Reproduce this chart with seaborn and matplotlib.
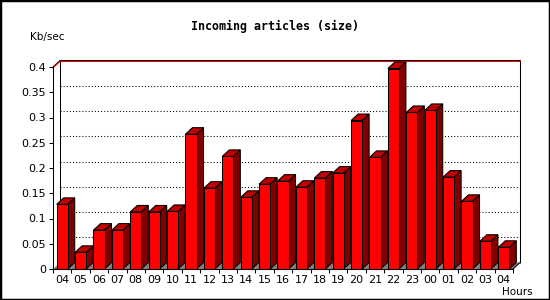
import numpy as np
import pandas as pd
import seaborn as sns
import matplotlib
matplotlib.use("Agg")
import matplotlib.pyplot as plt
from matplotlib.patches import Polygon, Rectangle
from matplotlib.lines import Line2D

hours = ["04", "05", "06", "07", "08", "09", "10", "11", "12", "13", "14", "15",
         "16", "17", "18", "19", "20", "21", "22", "23", "00", "01", "02", "03", "04"]
values = [0.128, 0.033, 0.077, 0.077, 0.113, 0.113, 0.114, 0.267, 0.160, 0.223,
          0.142, 0.168, 0.174, 0.162, 0.180, 0.190, 0.294, 0.221, 0.397, 0.310,
          0.314, 0.182, 0.134, 0.055, 0.043]
yticks = [0, 0.05, 0.1, 0.15, 0.2, 0.25, 0.3, 0.35, 0.4]
ytick_labels = ["0", "0.05", "0.1", "0.15", "0.2", "0.25", "0.3", "0.35", "0.4"]
title = "Incoming articles (size)"
ylabel = "Kb/sec"
xlabel = "Hours"

FRONT = "#ff0000"
TOP = "#c00000"
SIDE = "#800000"
FLOOR = "#808080"
LW = 0.75

sns.set_theme(style="white")
plt.rcParams["font.family"] = ["DejaVu Sans"]

W, H, DPI = 550, 300, 100
fig = plt.figure(figsize=(W / DPI, H / DPI), dpi=DPI)
fig.patch.set_facecolor("white")
ax_left, ax_right, ax_top, ax_bottom = 53, 513, 67, 269
ax = fig.add_axes([ax_left / W, 1 - ax_bottom / H, (ax_right - ax_left) / W, (ax_bottom - ax_top) / H])
ax.set_facecolor("none")

n = len(values)
df = pd.DataFrame({"slot": np.arange(n), "value": values})
sns.barplot(data=df, x="slot", y="value", ax=ax, color=FRONT, saturation=1,
            width=0.6, edgecolor="black", linewidth=LW, zorder=4)

ax.set_xlim(-0.5, n - 0.5)
ax.set_ylim(0, 0.4)

# depth in data units (7 px right, 6.5 px up)
px_x = (ax_right - ax_left) / n
px_y = (ax_bottom - ax_top) / 0.4
ddx = 7 / px_x
ddy = 6.5 / px_y

x0w, x1w = -0.5, n - 0.5
# back wall
ax.add_patch(Polygon([(x0w + ddx, ddy), (x0w + ddx, 0.4 + ddy), (x1w + ddx, 0.4 + ddy), (x1w + ddx, ddy)],
                     closed=False, facecolor="white", edgecolor="black", linewidth=LW,
                     zorder=0.5, clip_on=False))
# floor
ax.add_patch(Polygon([(x0w, 0), (x1w, 0), (x1w + ddx, ddy), (x0w + ddx, ddy)],
                     closed=True, facecolor=FLOOR, edgecolor="none", zorder=0.8, clip_on=False))
ax.add_line(Line2D([x1w, x1w + ddx], [0, ddy], color="black", linewidth=LW, zorder=0.9, clip_on=False))
# grid lines on back wall
for v in yticks[1:-1]:
    ax.add_line(Line2D([x0w + ddx, x1w + ddx], [v + ddy, v + ddy], color="black",
                       linewidth=LW, linestyle=(0, (1.0, 2.0)), zorder=0.7, clip_on=False))
# top red line and left diagonal
red_off = 1.0 / px_y
ax.add_line(Line2D([x0w + ddx, x1w + ddx], [0.4 + ddy - red_off, 0.4 + ddy - red_off],
                   color="red", linewidth=LW, zorder=0.9, clip_on=False))
ax.add_line(Line2D([x0w, x0w + ddx], [0.4, 0.4 + ddy], color="black", linewidth=LW, zorder=0.9, clip_on=False))
ax.add_line(Line2D([x0w, x0w + ddx], [0.4 - red_off, 0.4 + ddy - red_off], color="red",
                   linewidth=LW, zorder=0.9, clip_on=False))

# 3D top and side faces derived from bar patches
for p in ax.patches:
    if not isinstance(p, Rectangle):
        continue
    bx0 = p.get_x()
    bx1 = bx0 + p.get_width()
    h = p.get_height()
    top = Polygon([(bx0, h), (bx1, h), (bx1 + ddx, h + ddy), (bx0 + ddx, h + ddy)], closed=True,
                  facecolor=TOP, edgecolor="black", linewidth=LW, zorder=3, clip_on=False)
    side = Polygon([(bx1, 0), (bx1, h), (bx1 + ddx, h + ddy), (bx1 + ddx, ddy)], closed=True,
                   facecolor=SIDE, edgecolor="black", linewidth=LW, zorder=3, clip_on=False)
    ax.add_patch(side)
    ax.add_patch(top)
    p.set_clip_on(False)

for s in ["top", "right"]:
    ax.spines[s].set_visible(False)
for s in ["left", "bottom"]:
    ax.spines[s].set_visible(True)
    ax.spines[s].set_color("black")
    ax.spines[s].set_linewidth(LW)
    ax.spines[s].set_zorder(5)

ax.set_yticks(yticks)
ax.set_yticklabels(ytick_labels)
ax.set_xticks(np.arange(n))
ax.set_xticklabels(hours)
ax.set_xticks(np.arange(n + 1) - 0.5, minor=True)
ax.tick_params(axis="y", which="major", left=True, length=3, width=LW, color="black",
               labelsize=8, labelcolor="black", pad=2)
ax.tick_params(axis="x", which="major", bottom=False, length=0, labelsize=8,
               labelcolor="black", pad=4)
ax.tick_params(axis="x", which="minor", bottom=True, length=3, width=LW, color="black")
ax.set_xlabel("")
ax.set_ylabel("")
ax.grid(False)

fig.text(275 / W, 1 - 26 / H, title, ha="center", va="center", fontsize=8.4,
         fontweight="bold", family="DejaVu Sans Mono", color="black")
fig.text(30 / W, 1 - 37 / H, ylabel, ha="left", va="center", fontsize=7.5, color="black")
fig.text(533 / W, 1 - 292 / H, xlabel, ha="right", va="center", fontsize=7.5, color="black")

fig.patches.append(Rectangle((0, 0), 1, 1, transform=fig.transFigure, fill=False,
                             edgecolor="black", linewidth=2.5, zorder=10))

fig.savefig("out.png", dpi=DPI, facecolor="white")
